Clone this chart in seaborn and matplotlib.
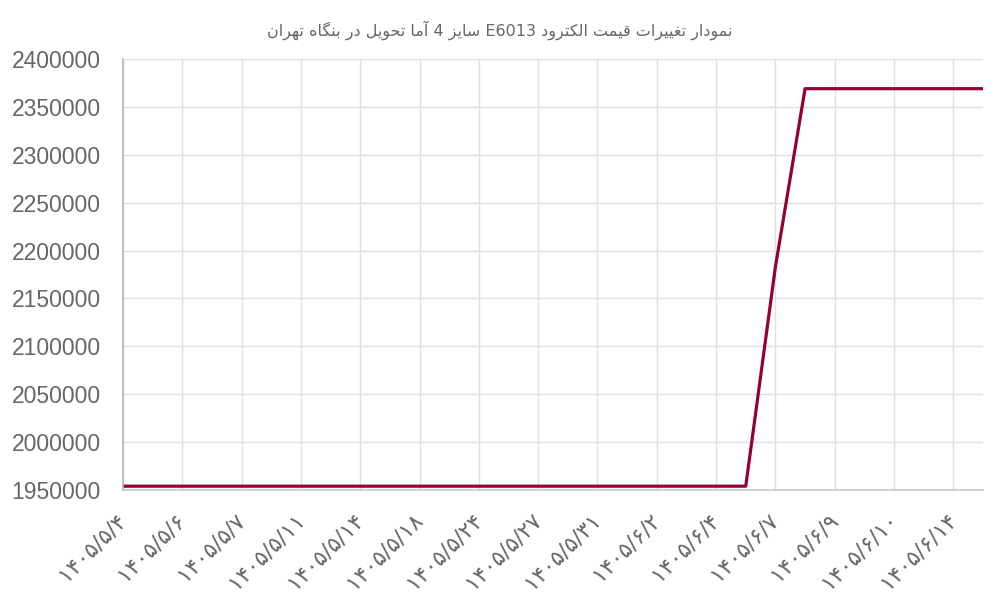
import numpy as np
import pandas as pd
import seaborn as sns
import matplotlib.pyplot as plt

# --- data ---
tick_labels = ['۱۴۰۵/۵/۴', '۱۴۰۵/۵/۶', '۱۴۰۵/۵/۷', '۱۴۰۵/۵/۱۱', '۱۴۰۵/۵/۱۴',
               '۱۴۰۵/۵/۱۸', '۱۴۰۵/۵/۲۴', '۱۴۰۵/۵/۲۷', '۱۴۰۵/۵/۳۱', '۱۴۰۵/۶/۲',
               '۱۴۰۵/۶/۴', '۱۴۰۵/۶/۷', '۱۴۰۵/۶/۹', '۱۴۰۵/۶/۱۰', '۱۴۰۵/۶/۱۴']
prices = [1954000, 1954000, 1954000, 1954000, 1954000, 1954000, 1954000, 1954000,
          1954000, 1954000, 1954000, 1954000, 1954000, 1954000, 1954000, 1954000,
          1954000, 1954000, 1954000, 1954000, 1954000, 1954000, 2183000, 2369000,
          2369000, 2369000, 2369000, 2369000, 2369000, 2369000]
title = 'نمودار تغییرات قیمت الکترود E6013 سایز 4 آما تحویل در بنگاه تهران'

# only every second point gets a label on the axis (like the original)
point_pos = np.arange(len(prices))
tick_pos = point_pos[::2]

# --- minimal arabic/persian shaping, matplotlib has no bidi ---
FORMS = {  # isolated, final, initial, medial
    'ا': ('\uFE8D', '\uFE8E', None, None),
    'آ': ('\uFE81', '\uFE82', None, None),
    'د': ('\uFEA9', '\uFEAA', None, None),
    'ر': ('\uFEAD', '\uFEAE', None, None),
    'ز': ('\uFEAF', '\uFEB0', None, None),
    'و': ('\uFEED', '\uFEEE', None, None),
    'ب': ('\uFE8F', '\uFE90', '\uFE91', '\uFE92'),
    'ت': ('\uFE95', '\uFE96', '\uFE97', '\uFE98'),
    'ح': ('\uFEA1', '\uFEA2', '\uFEA3', '\uFEA4'),
    'س': ('\uFEB1', '\uFEB2', '\uFEB3', '\uFEB4'),
    'غ': ('\uFECD', '\uFECE', '\uFECF', '\uFED0'),
    'ق': ('\uFED5', '\uFED6', '\uFED7', '\uFED8'),
    'ل': ('\uFEDD', '\uFEDE', '\uFEDF', '\uFEE0'),
    'م': ('\uFEE1', '\uFEE2', '\uFEE3', '\uFEE4'),
    'ن': ('\uFEE5', '\uFEE6', '\uFEE7', '\uFEE8'),
    'ه': ('\uFEE9', '\uFEEA', '\uFEEB', '\uFEEC'),
    'ی': ('\uFBFC', '\uFBFD', '\uFBFE', '\uFBFF'),
    'ک': ('\uFB8E', '\uFB8F', '\uFB90', '\uFB91'),
    'گ': ('\uFB92', '\uFB93', '\uFB94', '\uFB95'),
}


def shape_word(w):
    out = []
    for i, ch in enumerate(w):
        if ch not in FORMS:
            out.append(ch)
            continue
        prev = w[i - 1] if i > 0 else ''
        nxt = w[i + 1] if i + 1 < len(w) else ''
        joins_prev = prev in FORMS and FORMS[prev][2] is not None
        joins_next = FORMS[ch][2] is not None and nxt in FORMS
        iso, fin, ini, med = FORMS[ch]
        if joins_prev and joins_next:
            out.append(med)
        elif joins_prev:
            out.append(fin)
        elif joins_next:
            out.append(ini)
        else:
            out.append(iso)
    return ''.join(out)


def rtl(text):
    words = []
    for w in reversed(text.split(' ')):
        if any(c in FORMS for c in w):
            words.append(shape_word(w)[::-1])
        else:
            words.append(w)
    return ' '.join(words)


df = pd.DataFrame({'pos': point_pos, 'price': prices})

sns.set_style('white')
plt.rcParams['font.family'] = ['Liberation Sans', 'DejaVu Sans']

fig = plt.figure(figsize=(10, 6), dpi=100)
ax = fig.add_axes([0.123, 0.1833, 0.86, 0.7184])

sns.lineplot(data=df, x='pos', y='price', ax=ax, color='#930038', linewidth=2.3)

ax.set_xlim(0, len(prices) - 1)
ax.set_ylim(1950000, 2400000)
ax.set_yticks(np.arange(1950000, 2400001, 50000))
ax.ticklabel_format(axis='y', style='plain', useOffset=False)
ax.set_xticks(tick_pos)
ax.set_xticklabels(tick_labels, rotation=45, ha='right', va='center',
                   rotation_mode='anchor', family=['DejaVu Sans'], fontsize=16)
ax.tick_params(axis='x', length=14, color='#e0e0e0', colors='#666666', pad=5)
ax.tick_params(axis='y', length=14, color='#e0e0e0', colors='#666666',
               labelsize=16.5, pad=2)
ax.grid(True, color='#e0e0e0', linewidth=1)
ax.set_axisbelow(True)
ax.set_xlabel('')
ax.set_ylabel('')

for s in ['top', 'right']:
    ax.spines[s].set_visible(False)
ax.spines['left'].set_color('#b5b5b5')
ax.spines['bottom'].set_color('#c8c8c8')
ax.spines['left'].set_linewidth(1.2)
ax.spines['bottom'].set_linewidth(1.2)

fig.suptitle(rtl(title), x=0.5, y=0.95, va='center', fontsize=11.5,
             color='#666666', family=['DejaVu Sans'])

plt.savefig('out.png', dpi=100)
